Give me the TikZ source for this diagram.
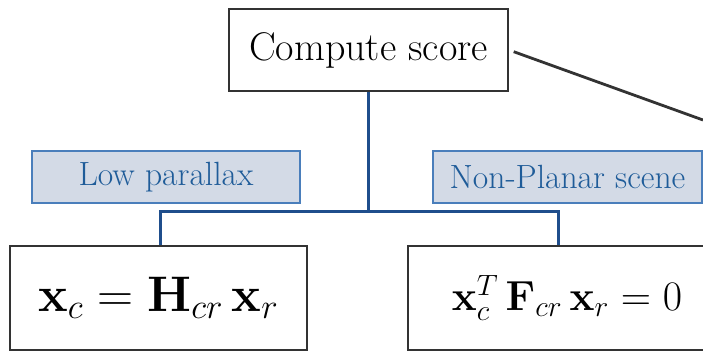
\RequirePackage{fix-cm}
\documentclass[tikz,border=0pt]{standalone}
\usetikzlibrary{positioning}

\definecolor{boxgray}{HTML}{333333}
\definecolor{trunkblue}{HTML}{1F4E8C}
\definecolor{tagfill}{HTML}{D3DAE6}
\definecolor{tagline}{HTML}{4A7EBB}
\definecolor{tagtext}{HTML}{1F5C99}

\tikzset{
  scorebox/.style={draw=boxgray, line width=1pt, fill=white, minimum width=139.5pt,
    minimum height=41pt, inner sep=0pt, font=\fontsize{20}{22}\selectfont},
  tagbox/.style={draw=tagline, line width=0.7pt, fill=tagfill, text=tagtext,
    minimum height=26pt, inner sep=0pt, font=\fontsize{16.8}{19}\selectfont},
  eqbox/.style={draw=boxgray, line width=1pt, fill=white, minimum height=52pt,
    inner sep=0pt, font=\fontsize{25}{30}\selectfont},
  branch/.style={draw=trunkblue, line width=1.5pt},
  linkline/.style={draw=boxgray, line width=1.4pt}
}

\begin{document}
\begin{tikzpicture}

% FRAME
\useasboundingbox (0,0) rectangle (351.5pt,176pt);
\clip (0,0) rectangle (351.5pt,176pt);

% TOP
\node[scorebox] (score) at (184.25pt,151pt) {Compute score};

% LABELS
\node[tagbox, minimum width=134pt] (lowpar) at (83pt,87.5pt) {Low parallax};
\node[tagbox, minimum width=134.5pt] (nonplan) at (283.75pt,87.5pt) {Non-Planar scene};

% MODELS
\node[eqbox, minimum width=148.5pt] (homog) at (79.25pt,27pt)
  {$\mathbf{x}_c = \mathbf{H}_{cr}\,\mathbf{x}_r$};
\node[eqbox, minimum width=159pt, font=\fontsize{21}{25}\selectfont] (fundm) at (283.5pt,27pt)
  {$\mathbf{x}_c^T\,\mathbf{F}_{cr}\,\mathbf{x}_r = 0$};

% helper coordinates
\coordinate (split) at (score.south |- 0,70pt);
\coordinate (offedge) at (351.5pt,116pt);

% EDGES
\draw[branch] (score.south) -- (split);
\draw[branch] ([xshift=0.75pt]homog.north) |- (split) -| ([xshift=-4.5pt]fundm.north);
\draw[linkline, shorten <=2.5pt] (score.east) -- (offedge);

\end{tikzpicture}
\end{document}
